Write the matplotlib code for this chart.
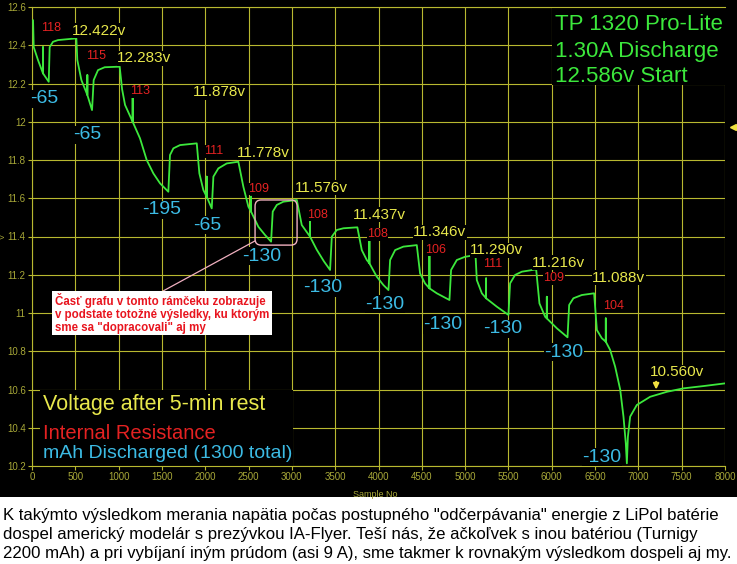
import matplotlib
matplotlib.use('Agg')
import matplotlib.pyplot as plt
from matplotlib.patches import Rectangle, FancyBboxPatch

plt.rcParams['font.family'] = ['Liberation Sans', 'DejaVu Sans']

# discharge curve (sample no, volts)
sample_no = [12, 20, 69, 127, 127, 127, 193,
             204, 242, 300, 512,
             523, 570, 639, 639, 639, 693,
             712, 762, 839, 1012,
             1040, 1074, 1162, 1162, 1162, 1247, 1324, 1401, 1478, 1574,
             1593, 1632, 1709, 1902,
             1932, 1978, 2017, 2017, 2017, 2075,
             2094, 2151, 2248, 2382,
             2440, 2498, 2529, 2529, 2529, 2613, 2690, 2760,
             2779, 2826, 2902, 3057,
             3114, 3210, 3210, 3210, 3287, 3370, 3441,
             3461, 3518, 3595, 3756,
             3807, 3865, 3895, 3895, 3895, 3980, 4057, 4115,
             4134, 4192, 4287, 4442,
             4480, 4537, 4588, 4588, 4588, 4673, 4819,
             4838, 4904, 5000, 5120,
             5135, 5193, 5242, 5242, 5242, 5366, 5500,
             5519, 5577, 5655, 5820,
             5858, 5924, 5943, 5943, 5943, 6059, 6182,
             6201, 6250, 6347, 6489,
             6521, 6578, 6624, 6624, 6624, 6674, 6732, 6790, 6828, 6855, 6867,
             6879, 6905, 6982, 7136, 7329, 7521, 7752, 8000]
volts = [12.53, 12.39, 12.323, 12.253, 12.39, 12.253, 12.209,
         12.39, 12.418, 12.427, 12.436,
         12.323, 12.218, 12.14, 12.244, 12.14, 12.061,
         12.218, 12.27, 12.285, 12.288,
         12.17, 12.088, 12.0, 12.131, 12.0, 11.913, 11.80, 11.73, 11.678, 11.634,
         11.826, 11.861, 11.878, 11.887,
         11.73, 11.643, 11.608, 11.713, 11.608, 11.547,
         11.713, 11.756, 11.782, 11.791,
         11.66, 11.556, 11.53, 11.608, 11.53, 11.451, 11.408, 11.373,
         11.53, 11.565, 11.582, 11.591,
         11.46, 11.399, 11.495, 11.399, 11.331, 11.27, 11.225,
         11.399, 11.434, 11.443, 11.448,
         11.329, 11.277, 11.26, 11.382, 11.26, 11.19, 11.146, 11.12,
         11.277, 11.329, 11.347, 11.355,
         11.207, 11.155, 11.129, 11.312, 11.129, 11.103, 11.068,
         11.225, 11.277, 11.294, 11.303,
         11.172, 11.103, 11.077, 11.181, 11.077, 11.033, 10.99,
         11.155, 11.199, 11.216, 11.228,
         11.05, 10.98, 10.972, 11.085, 10.972, 10.92, 10.873,
         11.042, 11.077, 11.094, 11.103,
         10.911, 10.868, 10.85, 10.972, 10.85, 10.807, 10.719, 10.6, 10.458, 10.318, 10.214,
         10.353, 10.458, 10.519, 10.562, 10.588, 10.606, 10.618, 10.632]

# voltage after rest (yellow)
rest_labels = ['12.422v', '12.283v', '11.878v', '11.778v', '11.576v', '11.437v',
               '11.346v', '11.290v', '11.216v', '11.088v', '10.560v']
rest_x = [462, 981, 1859, 2367, 3037, 3707, 4399, 5058, 5774, 6466, 7136]
rest_y = [12.485, 12.339, 12.161, 11.847, 11.664, 11.523, 11.429, 11.335, 11.272, 11.193, 10.697]

# internal resistance (red)
ir_labels = ['118', '115', '113', '111', '109', '108', '108', '106', '111', '109', '104']
ir_x = [104, 624, 1132, 1986, 2494, 3175, 3868, 4538, 5208, 5901, 6593]
ir_y = [12.495, 12.349, 12.166, 11.852, 11.654, 11.518, 11.418, 11.335, 11.261, 11.188, 11.042]

# mAh discharged per step (cyan)
mah_labels = ['-65', '-65', '-195', '-65', '-130', '-130', '-130', '-130', '-130', '-130', '-130']
mah_x = [-23, 473, 1270, 1859, 2425, 3129, 3845, 4515, 5208, 5912, 6351]
mah_y = [12.129, 11.941, 11.549, 11.47, 11.308, 11.141, 11.057, 10.948, 10.927, 10.806, 10.257]

info_lines = ['TP 1320 Pro-Lite', '1.30A Discharge', '12.586v Start']
legend_lines = ['Voltage after 5-min rest', 'Internal Resistance', 'mAh Discharged (1300 total)']
note = 'Časť grafu v tomto rámčeku zobrazuje\nv podstate totožné výsledky, ku ktorým\nsme sa "dopracovali" aj my'
caption = ['K takýmto výsledkom merania napätia počas postupného "odčerpávania" energie z LiPol batérie',
           'dospel americký modelár s prezývkou IA-Flyer. Teší nás, že ačkoľvek s inou batériou (Turnigy',
           '2200 mAh) a pri vybíjaní iným prúdom (asi 9 A), sme takmer k rovnakým výsledkom dospeli aj my.']

YEL = '#e8e84c'
RED = '#e42222'
CYAN = '#3cbbe4'
GREEN = '#3ce83c'
GRID = '#b8b830'
TICK = '#a8a838'

fig = plt.figure(figsize=(7.37, 5.64), dpi=100, facecolor='black')
fig.add_artist(Rectangle((0, 0), 1, 67 / 564, transform=fig.transFigure,
                         facecolor='white', edgecolor='none', zorder=-1))

ax = fig.add_axes([32 / 737, 1 - 466 / 564, 693 / 737, 459 / 564])
ax.set_facecolor('black')
ax.set_xlim(0, 8000)
ax.set_ylim(10.2, 12.6)
ax.set_xticks(range(0, 8001, 500))
ax.set_yticks([10.2 + 0.2 * i for i in range(13)])
ax.set_yticklabels(['%g' % round(10.2 + 0.2 * i, 1) for i in range(13)])
ax.set_axisbelow(True)
ax.grid(True, color=GRID, lw=0.8)
ax.tick_params(colors=GRID, labelcolor=TICK, labelsize=7, length=3, width=0.8, pad=1.5)
for s in ax.spines.values():
    s.set_color(GRID)
    s.set_linewidth(0.8)
ax.spines['right'].set_visible(False)
ax.set_xlabel('Sample No', fontsize=6.5, color=TICK)
ax.xaxis.set_label_coords(0.495, -0.052)
ax.set_ylabel('V', fontsize=5.5, color=TICK)
ax.yaxis.set_label_coords(-0.036, 0.5)

ax.plot(sample_no, volts, color=GREEN, lw=1.3, zorder=3)

# black boxes behind the text blocks
ax.add_patch(Rectangle((92, 10.2), 2922, 0.397, facecolor='black', edgecolor='none', zorder=2))
ax.add_patch(Rectangle((6004, 12.192), 2060, 0.42, facecolor='black', edgecolor='none',
                       zorder=2, clip_on=False))

bb = dict(facecolor='black', edgecolor='none', pad=0.3)
for t, x, y in zip(rest_labels, rest_x, rest_y):
    ax.text(x, y - 0.008, t, color=YEL, fontsize=11, ha='left', va='center', bbox=bb, zorder=4)
for t, x, y in zip(ir_labels, ir_x, ir_y):
    ax.text(x, y - 0.006, t, color=RED, fontsize=9, ha='left', va='center', bbox=bb, zorder=4)
for t, x, y in zip(mah_labels, mah_x, mah_y):
    ax.text(x, y - 0.01, t, color=CYAN, fontsize=14, ha='left', va='center', bbox=bb, zorder=4)

for t, y in zip(info_lines, [12.516, 12.375, 12.244]):
    ax.text(6039, y - 0.01, t, color=GREEN, fontsize=16, ha='left', va='center', zorder=4)
for t, c, fs, y in zip(legend_lines, [YEL, RED, CYAN], [15.5, 14.5, 14], [10.529, 10.378, 10.273]):
    ax.text(127, y - 0.01, t, color=c, fontsize=fs, ha='left', va='center', zorder=4)

# arrow at the final rest voltage and marker at the right edge
ax.annotate('', xy=(7205, 10.585), xytext=(7205, 10.655),
            arrowprops=dict(arrowstyle='-|>', color='#f0e040', lw=1.5, mutation_scale=8), zorder=4)
ax.plot([8095], [11.975], marker='<', color='#f0e040', ms=5, clip_on=False)

# highlighted region + note
asp = 0.005229 / 11.547
ax.add_patch(FancyBboxPatch((2575, 11.355), 485, 0.236,
                            boxstyle='round,pad=0,rounding_size=70', mutation_aspect=asp,
                            facecolor='none', edgecolor='#f0b0c0', lw=1, zorder=4))
ax.plot([1513, 2575], [11.115, 11.377], color='#f0b0c0', lw=0.9, zorder=4)
ax.add_patch(Rectangle((231, 10.885), 2540, 0.23, facecolor='white', edgecolor='none', zorder=5))
ax.text(270, 10.998, note, color='#e8141e', fontsize=8.3, fontweight='bold',
        ha='left', va='center', linespacing=1.15, zorder=6)

for t, yb in zip(caption, [520, 539, 558]):
    fig.text(3 / 737, 1 - yb / 564, t, color='black', fontsize=12.1, ha='left', va='baseline')

fig.savefig('out.png', dpi=100, facecolor=fig.get_facecolor())
